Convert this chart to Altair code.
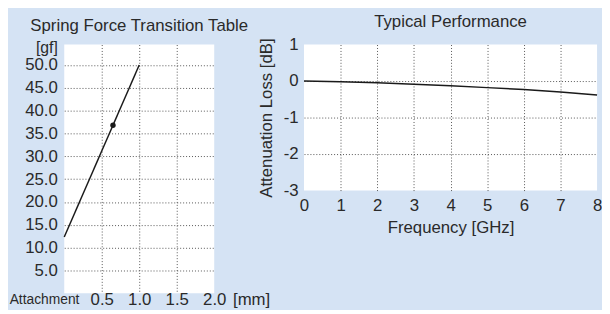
import altair as alt
import pandas as pd

# ---------------- data ----------------
# Spring force transition (left panel)
spring_disp = [0.0, 1.0]          # mm
spring_force = [12.3, 50.0]       # gf
marker_disp = [0.65]
marker_force = [36.8]
spring_x_ticks = [0.5, 1.0, 1.5, 2.0]
spring_y_ticks = [5, 10, 15, 20, 25, 30, 35, 40, 45, 50]

# Typical performance (right panel)
freq_ghz = [0, 1, 2, 3, 4, 5, 6, 7, 8]
atten_db = [0.0, -0.02, -0.045, -0.09, -0.13, -0.18, -0.23, -0.30, -0.38]
freq_ticks = [0, 1, 2, 3, 4, 5, 6, 7, 8]
atten_ticks = [1, 0, -1, -2, -3]

left_title = "Spring Force Transition Table"
right_title = "Typical Performance"

# ---------------- style ----------------
FONT = "Liberation Sans"
TXT = "#2a2a2a"
GRID = "#555555"
BG = "#d5e3f4"
LINE = "#1a1a1a"

df_spring = pd.DataFrame({"x": spring_disp, "y": spring_force})
df_marker = pd.DataFrame({"x": marker_disp, "y": marker_force})
df_perf = pd.DataFrame({"f": freq_ghz, "a": atten_db})

common = dict(labelOverlap=False, labelFlush=False, labelBound=False)

# ---------------- left panel ----------------
lx_scale = alt.Scale(domain=[0, 2], nice=False, zero=False)
ly_scale = alt.Scale(domain=[0, 54.5], nice=False, zero=False)
lx_axis = alt.Axis(
    values=spring_x_ticks, format=".1f", title=None, labelPadding=-2,
    gridOpacity={"condition": {"test": "datum.value >= 2", "value": 0}, "value": 1},
    **common,
)
ly_axis = alt.Axis(
    values=spring_y_ticks, format=".1f", labelPadding=7,
    title="[gf]", titleAngle=0, titleX=-7, titleY=3, titleFontSize=16,
    titleAlign="right", titleBaseline="middle",
    **common,
)

spring_line = alt.Chart(df_spring).mark_line(color=LINE, strokeWidth=1.5).encode(
    x=alt.X("x:Q", scale=lx_scale, axis=lx_axis),
    y=alt.Y("y:Q", scale=ly_scale, axis=ly_axis),
)
spring_pt = alt.Chart(df_marker).mark_point(
    filled=True, color=LINE, size=30, opacity=1
).encode(
    x=alt.X("x:Q", scale=lx_scale, axis=lx_axis),
    y=alt.Y("y:Q", scale=ly_scale, axis=ly_axis),
)

attach_txt = alt.Chart(pd.DataFrame({"t": ["Attachment"]})).mark_text(
    fontSize=14, baseline="middle", align="center", dy=7, color=TXT, font=FONT
).encode(
    x=alt.XDatum(-0.263, scale=lx_scale, axis=lx_axis),
    y=alt.YDatum(0, scale=ly_scale, axis=ly_axis),
    text="t:N",
)
mm_txt = alt.Chart(pd.DataFrame({"t": ["[mm]"]})).mark_text(
    fontSize=17, baseline="middle", align="left", dy=7, color=TXT, font=FONT
).encode(
    x=alt.XDatum(2.25, scale=lx_scale, axis=lx_axis),
    y=alt.YDatum(0, scale=ly_scale, axis=ly_axis),
    text="t:N",
)

left = alt.layer(spring_line, spring_pt, attach_txt, mm_txt).properties(
    width=152, height=252, title=left_title
)

# ---------------- right panel ----------------
rx = alt.X(
    "f:Q",
    scale=alt.Scale(domain=[0, 8], nice=False, zero=False),
    axis=alt.Axis(
        values=freq_ticks, labelExpr="datum.value + ''", title="Frequency [GHz]",
        labelPadding=7, titlePadding=7,
        gridOpacity={"condition": {"test": "datum.value <= 0 || datum.value >= 8", "value": 0}, "value": 1},
        **common,
    ),
)
ry = alt.Y(
    "a:Q",
    scale=alt.Scale(domain=[-3, 1], nice=False, zero=False),
    axis=alt.Axis(
        values=atten_ticks, labelExpr="datum.value + ''", title="Attenuation Loss [dB]",
        labelPadding=6, titlePadding=8,
        gridOpacity={"condition": {"test": "datum.value <= -3 || datum.value >= 1", "value": 0}, "value": 1},
        **common,
    ),
)
right = alt.Chart(df_perf).mark_line(color=LINE, strokeWidth=1.5).encode(x=rx, y=ry).properties(
    width=297, height=148, title=right_title
)

chart = (
    alt.hconcat(left, right, spacing=91, bounds="flush")
    .properties(background=BG, padding={"left": 1, "top": 3, "right": 0, "bottom": 0})
    .configure_view(fill="white", strokeWidth=0)
    .configure_axis(
        labelFont=FONT, titleFont=FONT, labelFontSize=17, titleFontSize=17,
        labelColor=TXT, titleColor=TXT, titleFontWeight="normal",
        ticks=False, domain=False, grid=True,
        gridColor=GRID, gridDash=[1, 2], gridWidth=1,
    )
    .configure_title(font=FONT, fontSize=17, fontWeight="normal", color=TXT,
                     anchor="middle", frame="group", offset=5)
)

chart.save("out.html", embed_options={"renderer": "svg", "actions": False})
